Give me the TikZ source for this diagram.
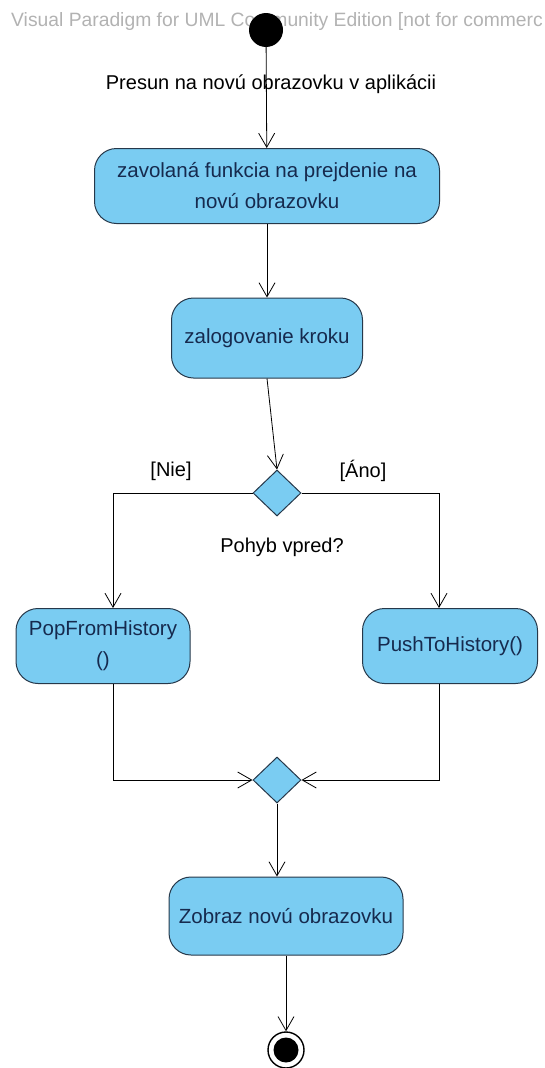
\documentclass[tikz,border=0pt]{standalone}
\usepackage{fontspec}
\setmainfont{Liberation Sans}
\usetikzlibrary{arrows.meta, positioning, shapes.geometric}
\definecolor{actfill}{RGB}{122,204,242}
\definecolor{actline}{RGB}{38,56,74}
\definecolor{acttext}{RGB}{22,42,78}

\begin{document}
\begin{tikzpicture}[x=1pt, y=-1pt,
    action/.style={rectangle, rounded corners=22pt, draw=actline, fill=actfill,
      line width=1pt, text=acttext, font=\fontsize{20.5}{31}\selectfont,
      align=center, inner sep=0pt},
    decision/.style={diamond, draw=actline, fill=actfill, line width=1pt,
      minimum width=48pt, minimum height=46pt, inner sep=0pt},
    flow/.style={-{Straight Barb[length=14pt,width=16pt]}, line width=0.8pt},
    guard/.style={font=\fontsize{20}{24}\selectfont}]
    \useasboundingbox (0,0) rectangle (544,1068);

    % watermark
    \node[anchor=west, text=black!30, font=\fontsize{19.3}{22}\selectfont, inner sep=0pt]
      (wm) at (11,22) {Visual Paradigm for UML Community Edition [not for commerc};

    % initial and final nodes
    \node[circle, fill=black, minimum size=34pt, inner sep=0pt] (start) at (266,30) {};
    \node[circle, draw, line width=1.4pt, minimum size=36pt, inner sep=0pt] (end) at (286,1050) {};
    \node[circle, fill=black, minimum size=25pt, inner sep=0pt] (endin) at (end) {};

    % actions
    \node[action, minimum width=345pt, minimum height=75pt] (call) at (267,186)
      {zavolaná funkcia na prejdenie na\\novú obrazovku};
    \node[action, minimum width=191pt, minimum height=80pt] (log) at (267,338)
      {zalogovanie kroku};
    \node[action, minimum width=174pt, minimum height=75pt] (pop) at (103,646)
      {PopFromHistory\\()};
    \node[action, minimum width=175pt, minimum height=75pt] (push) at (450,646)
      {PushToHistory()};
    \node[action, minimum width=234pt, minimum height=78pt] (show) at (286,916)
      {Zobraz novú obrazovku};

    % decision and merge
    \node[decision] (dec) at (277,493) {};
    \node[decision] (merge) at (277,780) {};

    % labels
    \node[guard] (trig) at (271,84) {Presun na novú obrazovku v aplikácii};
    \node[guard] (nie) at (171,471) {[Nie]};
    \node[guard] (ano) at (363,471) {[Áno]};
    \node[guard] (ask) at (282,547) {Pohyb vpred?};

    % flows
    \draw[flow] (start) -- (call);
    \draw[flow] (call) -- (log);
    \draw[flow] (log.south) -- (dec.north);
    \draw[flow] (dec.west) -| ([xshift=10pt]pop.north);
    \draw[flow] (dec.east) -| ([xshift=-11pt]push.north);
    \draw[flow] ([xshift=10pt]pop.south) |- (merge.west);
    \draw[flow] ([xshift=-11pt]push.south) |- (merge.east);
    \draw[flow] (merge.south) -- (merge.south |- show.north);
    \draw[flow] (show) -- (end);
\end{tikzpicture}
\end{document}
